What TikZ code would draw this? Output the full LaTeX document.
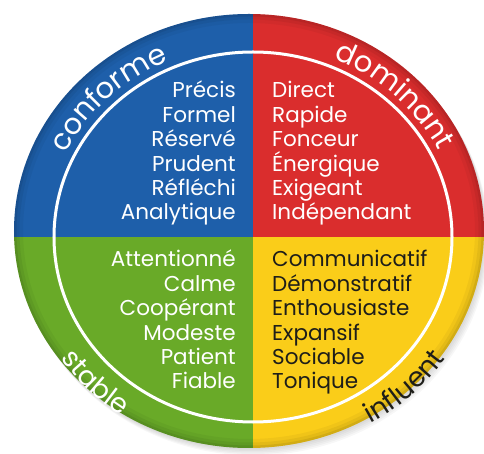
\documentclass[tikz,border=0pt]{standalone}
\usepackage{fontspec}
\setmainfont{Poppins}
\usetikzlibrary{decorations.text}
\definecolor{bleu}{RGB}{30,95,170}
\definecolor{rouge}{RGB}{218,45,45}
\definecolor{vert}{RGB}{105,170,40}
\definecolor{jaune}{RGB}{250,205,25}
\definecolor{encre}{RGB}{30,30,25}
\newcommand{\motfont}{\fontsize{21.5}{21.5}\selectfont}
\newcommand{\typefont}{\fontsize{29}{29}\selectfont}
\newcommand{\basfont}{\fontsize{27}{27}\selectfont}
\begin{document}
\begin{tikzpicture}[x=1pt,y=1pt,mot/.style={inner sep=0pt,font=\motfont}]
			\useasboundingbox (-253,-217) rectangle (231,237);
			\foreach \d in {1,...,5}
				\fill[black,opacity=0.03] (-4+\d,6-1.5*\d) ellipse (235 and 217);
			\begin{scope}
				\clip (-4,6) ellipse (235 and 217);
				\fill[bleu] (-260,0) rectangle (0,240);
				\fill[rouge] (0,0) rectangle (240,240);
				\fill[vert] (-260,0) rectangle (0,-220);
				\fill[jaune] (0,0) rectangle (240,-220);
				\foreach \w/\o in {18/0.04,11/0.05,5/0.07}
					\draw[black,opacity=\o,line width=\w] (-4,6) ellipse (235 and 217);
			\end{scope}
			\draw[white,line width=3] (0,0) ellipse (199 and 185);
			% les quatre types le long du bord
			\path[decorate,decoration={text along path,text align=center,text={|\typefont\color{white}|conforme}}]
				(180:208 and 193) arc[start angle=180,end angle=90,x radius=208,y radius=193];
			\path[decorate,decoration={text along path,text align=center,text={|\typefont\color{white}|dominant}}]
				(92:208 and 193) arc[start angle=92,end angle=0,x radius=208,y radius=193];
			\path[decorate,decoration={text along path,text align=center,text={|\basfont\color{white}|stable}}]
				(179:233 and 216) arc[start angle=179,end angle=269,x radius=233,y radius=216];
			\path[decorate,decoration={text along path,text align=center,text={|\basfont\color{encre}|influent}}]
				(-91:233 and 216) arc[start angle=-91,end angle=-1,x radius=233,y radius=216];
			% les adjectifs
			\foreach \m [count=\i] in {Précis,Formel,Réservé,Prudent,Réfléchi,Analytique}
				\node[mot,white,anchor=base east] (conf\i) at (-17,{163.4-24.4*\i}) {\m};
			\foreach \m [count=\i] in {Direct,Rapide,Fonceur,Énergique,Exigeant,Indépendant}
				\node[mot,white,anchor=base west] (dom\i) at (19,{163.4-24.4*\i}) {\m};
			\foreach \m [count=\i] in {Attentionné,Calme,Coopérant,Modeste,Patient,Fiable}
				\node[mot,white,anchor=base east] (stab\i) at (-17,{-5.6-24.4*\i}) {\m};
			\foreach \m [count=\i] in {Communicatif,Démonstratif,Enthousiaste,Expansif,Sociable,Tonique}
				\node[mot,encre,anchor=base west] (infl\i) at (19,{-5.6-24.4*\i}) {\m};
		\end{tikzpicture}
\end{document}
